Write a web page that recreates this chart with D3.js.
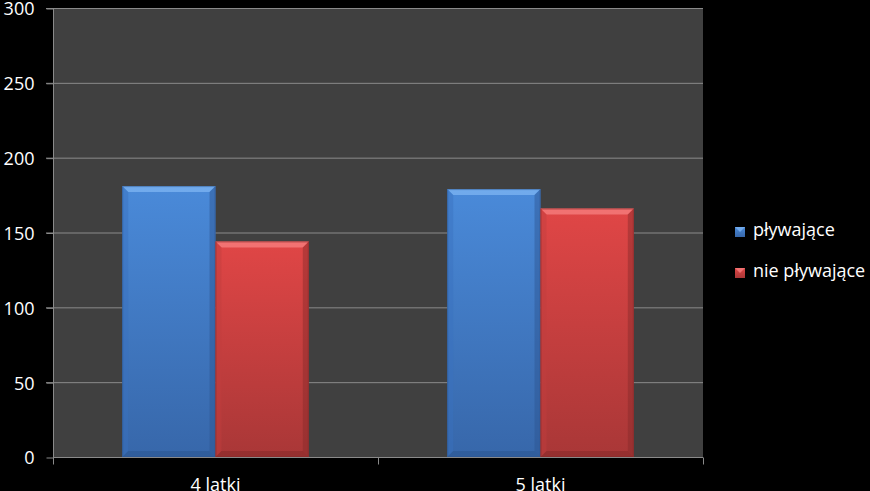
<!DOCTYPE html>
<html><head><meta charset="utf-8">
<script src="https://cdn.jsdelivr.net/npm/d3@7/dist/d3.min.js"></script>
<style>html,body{margin:0;padding:0;background:#000;}svg{display:block;}</style>
</head><body><svg id="c" width="870" height="491"></svg>
<script>
const categories = ["4 latki", "5 latki"];
const seriesNames = ["pływające", "nie pływające"];
const plywajace = [181, 179];
const niePlywajace = [144, 166];
const yTicks = [0, 50, 100, 150, 200, 250, 300];

const svg = d3.select("#c");
const W = 870, H = 491;
const m = {l: 53, r: 167, t: 8, b: 34};
const x0 = d3.scaleBand().domain(categories).range([m.l, W - m.r]).paddingInner(0).paddingOuter(0);
const x1 = d3.scaleBand().domain(seriesNames).range([0, x0.bandwidth()]).paddingInner(0).paddingOuter(0.742);
const y = d3.scaleLinear().domain([0, 300]).range([H - m.b, m.t]);
const font = "'Open Sans', 'Noto Sans', sans-serif";

const defs = svg.append("defs");
const pal = {
  "pływające": {top: "#4a8ad9", bot: "#3767aa", light: "#78b0f0", dark: "#2c5590", side: "#3a72bf"},
  "nie pływające": {top: "#e04646", bot: "#a93737", light: "#f47a7a", dark: "#852a2a", side: "#c03d3d"}
};
seriesNames.forEach((s, i) => {
  const g = defs.append("linearGradient").attr("id", "g" + i).attr("x1", 0).attr("y1", 0).attr("x2", 0).attr("y2", 1);
  g.append("stop").attr("offset", "0%").attr("stop-color", pal[s].top);
  g.append("stop").attr("offset", "100%").attr("stop-color", pal[s].bot);
});

// plot background
svg.append("rect").attr("x", m.l).attr("y", m.t).attr("width", W - m.r - m.l).attr("height", H - m.b - m.t).attr("fill", "#404040");

// gridlines
svg.append("g").selectAll("line").data(yTicks.filter(d => d > 0)).join("line")
  .attr("x1", m.l - 7).attr("x2", W - m.r).attr("y1", d => y(d) + 0.5).attr("y2", d => y(d) + 0.5)
  .attr("stroke", "#8a8a8a").attr("stroke-width", 1);

// bars
const data = [];
categories.forEach((c, ci) => {
  data.push({c, s: seriesNames[0], v: plywajace[ci], i: 0});
  data.push({c, s: seriesNames[1], v: niePlywajace[ci], i: 1});
});
const bev = 6;
const bars = svg.append("g").selectAll("g").data(data).join("g");
bars.each(function(d) {
  const g = d3.select(this);
  const xa = x0(d.c) + x1(d.s), xb = xa + x1.bandwidth();
  const ya = y(d.v), yb = y(0);
  const p = pal[d.s];
  g.append("rect").attr("x", xa).attr("y", ya).attr("width", xb - xa).attr("height", yb - ya).attr("fill", `url(#g${d.i})`);
  g.append("polygon").attr("points", [[xa, ya], [xb, ya], [xb - bev, ya + bev], [xa + bev, ya + bev]].join(" ")).attr("fill", p.light).attr("opacity", 0.85);
  g.append("polygon").attr("points", [[xa, ya], [xa + bev, ya + bev], [xa + bev, yb - bev], [xa, yb]].join(" ")).attr("fill", p.side).attr("opacity", 0.45);
  g.append("polygon").attr("points", [[xb, ya], [xb - bev, ya + bev], [xb - bev, yb - bev], [xb, yb]].join(" ")).attr("fill", p.dark).attr("opacity", 0.45);
  g.append("polygon").attr("points", [[xa, yb], [xa + bev, yb - bev], [xb - bev, yb - bev], [xb, yb]].join(" ")).attr("fill", p.dark).attr("opacity", 0.55);
  g.append("rect").attr("x", xa + 0.5).attr("y", ya + 0.5).attr("width", xb - xa - 1).attr("height", yb - ya - 1).attr("fill", "none").attr("stroke", p.dark).attr("stroke-opacity", 0.5);
});

// y axis
const yAxis = d3.axisLeft(y).tickValues(yTicks).tickSize(7).tickPadding(12);
const yg = svg.append("g").attr("transform", `translate(${m.l + 0.5},0.5)`).call(yAxis);
yg.select(".domain").attr("stroke", "#8a8a8a").attr("d", `M0,${m.t}V${H - m.b}`);
yg.selectAll(".tick line").attr("stroke", "#8a8a8a");
yg.selectAll(".tick text").attr("fill", "#fff").attr("font-family", font).attr("font-size", 18).attr("dy", "0.36em");

// x axis
const xg = svg.append("g").attr("transform", `translate(0,${H - m.b + 0.5})`);
xg.append("line").attr("x1", m.l).attr("x2", W - m.r).attr("stroke", "#8a8a8a");
const bounds = [m.l].concat(categories.map(c => x0(c) + x0.bandwidth()));
xg.selectAll("line.t").data(bounds).join("line").attr("class", "t")
  .attr("x1", d => Math.round(d) + 0.5).attr("x2", d => Math.round(d) + 0.5).attr("y1", 0).attr("y2", 7).attr("stroke", "#8a8a8a");
xg.selectAll("text").data(categories).join("text")
  .attr("x", d => x0(d) + x0.bandwidth() / 2).attr("y", 33)
  .attr("text-anchor", "middle").attr("fill", "#fff").attr("font-family", font).attr("font-size", 18).text(d => d);

// legend
const lg = svg.append("g").attr("transform", "translate(735,227)");
seriesNames.forEach((s, i) => {
  const g = lg.append("g").attr("transform", `translate(0,${i * 41})`);
  g.append("rect").attr("width", 10).attr("height", 10).attr("fill", `url(#g${i})`);
  g.append("polygon").attr("points", "0,0 10,0 5,5").attr("fill", pal[s].light).attr("opacity", 0.85);
  g.append("text").attr("x", 18).attr("y", 9).attr("fill", "#fff").attr("font-family", font).attr("font-size", 18).text(s);
});
</script></body></html>
